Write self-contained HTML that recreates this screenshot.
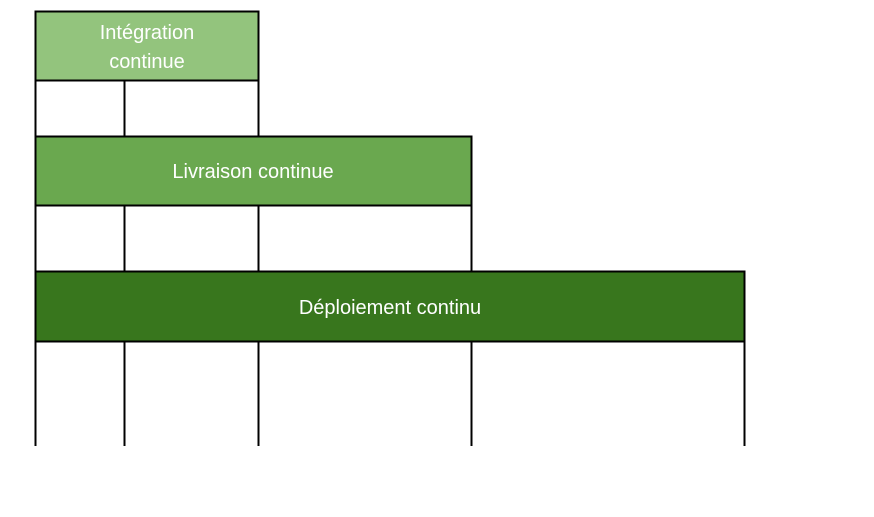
<!DOCTYPE html>
<html><head><meta charset="utf-8"><style>html,body{margin:0;padding:0;background:#fff;width:874px;height:517px;overflow:hidden}</style></head>
<body>
<svg width="874" height="517" xmlns="http://www.w3.org/2000/svg" font-family="Liberation Sans, sans-serif">
<g stroke="#000" stroke-width="2">
<line x1="35.5" y1="80" x2="35.5" y2="446"/>
<line x1="124.5" y1="80" x2="124.5" y2="136"/>
<line x1="258.5" y1="80" x2="258.5" y2="136"/>
<line x1="124.5" y1="205" x2="124.5" y2="271"/>
<line x1="258.5" y1="205" x2="258.5" y2="271"/>
<line x1="471.5" y1="205" x2="471.5" y2="271"/>
<line x1="124.5" y1="341" x2="124.5" y2="446"/>
<line x1="258.5" y1="341" x2="258.5" y2="446"/>
<line x1="471.5" y1="341" x2="471.5" y2="446"/>
<line x1="744.5" y1="341" x2="744.5" y2="446"/>
<rect x="35.5" y="11.5" width="223" height="69" fill="#93c47d"/>
<rect x="35.5" y="136.5" width="436" height="69" fill="#6aa84f"/>
<rect x="35.5" y="271.5" width="709" height="70" fill="#38761d"/>
</g>
<g fill="#fff" font-size="20" text-anchor="middle">
<text x="147" y="39">Intégration</text>
<text x="147" y="68">continue</text>
<text x="253" y="178">Livraison continue</text>
<text x="390" y="314">Déploiement continu</text>
</g>
</svg>
</body></html>
